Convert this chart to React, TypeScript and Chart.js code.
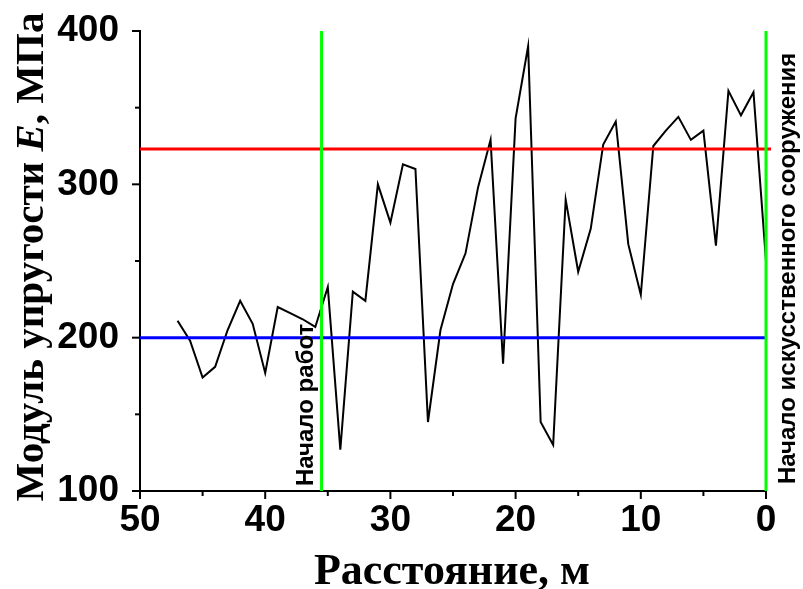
import React, { useEffect, useRef } from 'react';
import { Chart, registerables } from 'chart.js';

Chart.register(...registerables);

// ---------- data ----------
const distances = [47, 46, 45, 44, 43, 42, 41, 40, 39, 38, 37, 36, 35, 34, 33, 32, 31, 30, 29, 28, 27, 26, 25, 24, 23, 22, 21, 20, 19, 18, 17, 16, 15, 14, 13, 12, 11, 10, 9, 8, 7, 6, 5, 4, 3, 2, 1, 0];
const modulus = [211, 198, 174, 181, 205, 224, 209, 177, 220, 216, 212, 207, 233, 127, 230, 224, 300, 275, 313, 310, 145, 205, 235, 255, 298, 329, 183, 343, 390, 145, 130, 290, 243, 271, 326, 341, 261, 228, 325, 335, 344, 329, 335, 260, 361, 345, 360, 250];
const upperLevel = 323;
const lowerLevel = 200;
const workStart = 35.5;
const structureStart = 0;
const xRange = [0, 50];
const yRange = [100, 400];
const xMajorStep = 10;
const xMinorStep = 5;
const yMajorStep = 100;
const yMinorStep = 50;
const xTitle = 'Расстояние, м';
const yTitleParts = ['Модуль упругости ', 'E', ', МПа'];
const workLabel = 'Начало работ';
const structureLabel = 'Начало искусственного сооружения';

const decorPlugin = {
  id: 'decor',
  afterDraw(chart: any) {
    const ctx = chart.ctx as CanvasRenderingContext2D;
    const xs = chart.scales.x;
    const ys = chart.scales.y;
    const area = chart.chartArea;
    ctx.save();
    ctx.strokeStyle = '#000';
    ctx.lineWidth = 2;
    // x ticks (outward)
    for (let v = xRange[0]; v <= xRange[1]; v += xMinorStep) {
      const px = xs.getPixelForValue(v);
      const len = v % xMajorStep === 0 ? 8 : 5;
      ctx.beginPath();
      ctx.moveTo(px, area.bottom);
      ctx.lineTo(px, area.bottom + len);
      ctx.stroke();
    }
    // y ticks (outward)
    for (let v = yRange[0]; v <= yRange[1]; v += yMinorStep) {
      const py = ys.getPixelForValue(v);
      const len = v % yMajorStep === 0 ? 8 : 5;
      ctx.beginPath();
      ctx.moveTo(area.left, py);
      ctx.lineTo(area.left - len, py);
      ctx.stroke();
    }

    ctx.fillStyle = '#000';
    // x title
    ctx.font = 'bold 44px "Liberation Serif", "Times New Roman", serif';
    ctx.textAlign = 'center';
    ctx.textBaseline = 'alphabetic';
    ctx.fillText(xTitle, 452, 584);

    // y title (mixed italic E)
    const fNorm = 'bold 41px "Liberation Serif", "Times New Roman", serif';
    const fItal = 'italic bold 41px "Liberation Serif", "Times New Roman", serif';
    const fonts = [fNorm, fItal, fNorm];
    const widths = yTitleParts.map((t, i) => {
      ctx.font = fonts[i];
      return ctx.measureText(t).width;
    });
    const total = widths.reduce((a, b) => a + b, 0);
    ctx.save();
    ctx.translate(43, 257);
    ctx.rotate(-Math.PI / 2);
    ctx.textAlign = 'left';
    let xPos = -total / 2;
    yTitleParts.forEach((t, i) => {
      ctx.font = fonts[i];
      ctx.fillText(t, xPos, 0);
      xPos += widths[i];
    });
    ctx.restore();

    // rotated annotation labels
    ctx.font = 'bold 24px "Liberation Sans", Arial, sans-serif';
    ctx.textAlign = 'left';
    ctx.textBaseline = 'alphabetic';
    ctx.save();
    ctx.translate(xs.getPixelForValue(workStart) - 9, 486);
    ctx.rotate(-Math.PI / 2);
    ctx.fillText(workLabel, 0, 0);
    ctx.restore();

    ctx.save();
    ctx.translate(xs.getPixelForValue(structureStart) + 29, 484);
    ctx.rotate(-Math.PI / 2);
    ctx.fillText(structureLabel, 0, 0);
    ctx.restore();

    ctx.restore();
  },
};

export default function App() {
  const ref = useRef<HTMLCanvasElement | null>(null);

  useEffect(() => {
    if (!ref.current) return;
    const mainData = distances.map((d, i) => ({ x: d, y: modulus[i] }));
    const chart = new Chart(ref.current, {
      type: 'line',
      data: {
        datasets: [
          {
            label: 'E',
            data: mainData,
            borderColor: '#000',
            borderWidth: 2,
            pointRadius: 0,
            tension: 0,
            fill: false,
            order: 5,
          },
          {
            label: 'lower',
            data: [{ x: xRange[1], y: lowerLevel }, { x: xRange[0], y: lowerLevel }],
            borderColor: '#0000ff',
            borderWidth: 3,
            pointRadius: 0,
            order: 4,
          },
          {
            label: 'upper',
            data: [{ x: xRange[1], y: upperLevel }, { x: -0.4, y: upperLevel }],
            borderColor: '#ff0000',
            borderWidth: 3,
            pointRadius: 0,
            clip: false as any,
            order: 3,
          },
          {
            label: 'work',
            data: [{ x: workStart, y: yRange[0] }, { x: workStart, y: yRange[1] }],
            borderColor: '#00ff00',
            borderWidth: 3,
            pointRadius: 0,
            order: 1,
          },
          {
            label: 'structure',
            data: [{ x: structureStart, y: yRange[0] }, { x: structureStart, y: yRange[1] }],
            borderColor: '#00ff00',
            borderWidth: 3,
            pointRadius: 0,
            clip: false as any,
            order: 1,
          },
        ],
      },
      options: {
        responsive: false,
        animation: false,
        events: [],
        layout: { padding: { top: 31, right: 37, left: 0, bottom: 0 } },
        plugins: { legend: { display: false }, tooltip: { enabled: false } },
        scales: {
          x: {
            type: 'linear',
            min: xRange[0],
            max: xRange[1],
            reverse: true,
            grid: { display: false, drawTicks: false },
            border: { display: true, color: '#000', width: 2 },
            ticks: {
              stepSize: xMajorStep,
              color: '#000',
              padding: 8,
              maxRotation: 0,
              font: { family: '"Liberation Sans", Arial, sans-serif', size: 37, weight: 'bold' },
            },
            afterFit(scale: any) {
              scale.height = 98;
              scale.paddingLeft = 0;
              scale.paddingRight = 0;
            },
          },
          y: {
            type: 'linear',
            min: yRange[0],
            max: yRange[1],
            grid: { display: false, drawTicks: false },
            border: { display: true, color: '#000', width: 2 },
            ticks: {
              stepSize: yMajorStep,
              color: '#000',
              padding: 21,
              font: { family: '"Liberation Sans", Arial, sans-serif', size: 37, weight: 'bold' },
            },
            afterFit(scale: any) {
              scale.width = 140;
              scale.paddingTop = 0;
              scale.paddingBottom = 0;
            },
          },
        },
      },
      plugins: [decorPlugin],
    });
    return () => chart.destroy();
  }, []);

  return (
    <div style={{ position: 'fixed', left: 0, top: 0, width: 803, height: 589, background: '#fff' }}>
      <canvas ref={ref} width={803} height={589} style={{ width: 803, height: 589, display: 'block' }} />
    </div>
  );
}
